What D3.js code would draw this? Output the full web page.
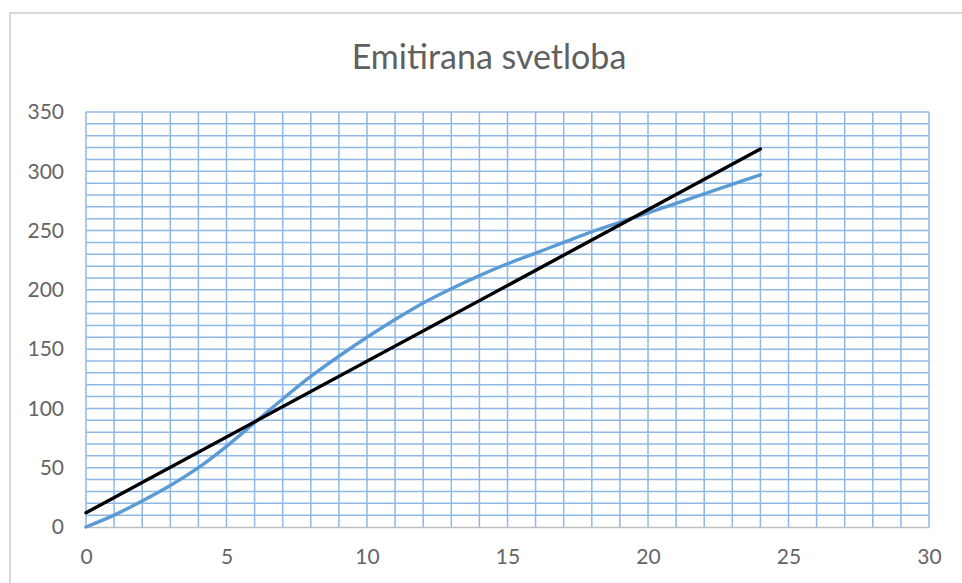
<!DOCTYPE html>
<html>
<head>
<meta charset="utf-8">
<script src="https://cdn.jsdelivr.net/npm/d3@7"></script>
<style>
  html, body { margin: 0; padding: 0; background: #fff; }
  svg { display: block; }
  text { font-family: Lato, "Open Sans", sans-serif; fill: #595959; }
</style>
</head>
<body>
<svg id="chart" width="962" height="583"></svg>
<script>
// Measured emission over time
const hours = [0, 1, 2, 3, 4, 5, 6, 7, 8, 9, 10, 11, 12, 13, 14, 15, 16, 17, 18, 19, 20, 21, 22, 23, 24];
const emitted = [0, 10, 22, 35, 50, 68, 88, 108, 127, 144, 160, 175, 189, 201, 212, 222, 231, 240, 249, 257, 265, 273, 281, 289, 297];

// Linear trend line end points
const trendX = [0, 24];
const trendY = [12, 318.7];

const xTicks = [0, 5, 10, 15, 20, 25, 30];
const yTicks = [0, 50, 100, 150, 200, 250, 300, 350];
const title = "Emitirana svetloba";

const svg = d3.select("#chart");
const W = 962, H = 583;
const plot = { left: 86, right: 929, top: 112, bottom: 527 };

// chart area frame
svg.append("rect")
  .attr("x", 10).attr("y", 13)
  .attr("width", W + 10).attr("height", H + 10)
  .attr("fill", "#fff")
  .attr("stroke", "#d9d9d9").attr("stroke-width", 2);

const x = d3.scaleLinear().domain([0, 30]).range([plot.left, plot.right]);
const y = d3.scaleLinear().domain([0, 350]).range([plot.bottom, plot.top]);

// grid
const grid = svg.append("g").attr("stroke", "#8fb8e4").attr("stroke-width", 1.5);
grid.selectAll("line.v").data(d3.range(0, 31, 1)).join("line")
  .attr("class", "v")
  .attr("x1", d => x(d)).attr("x2", d => x(d))
  .attr("y1", y(0)).attr("y2", y(350));
grid.selectAll("line.h").data(d3.range(10, 351, 10)).join("line")
  .attr("class", "h")
  .attr("x1", x(0)).attr("x2", x(30))
  .attr("y1", d => y(d)).attr("y2", d => y(d));

// axes
const xAxis = svg.append("g")
  .attr("transform", `translate(0,${plot.bottom})`)
  .call(d3.axisBottom(x).tickValues(xTicks).tickSize(0).tickPadding(22).tickFormat(d3.format("d")));
xAxis.select(".domain").attr("stroke", "#bfbfbf").attr("stroke-width", 1.5);
xAxis.selectAll("text").attr("font-size", 21).style("fill", "#656565");

const yAxis = svg.append("g")
  .attr("transform", `translate(${plot.left},0)`)
  .call(d3.axisLeft(y).tickValues(yTicks).tickSize(0).tickPadding(22).tickFormat(d3.format("d")));
yAxis.select(".domain").remove();
yAxis.selectAll("text").attr("font-size", 21).style("fill", "#656565");

// data curve
svg.append("path")
  .datum(hours.map((h, i) => [h, emitted[i]]))
  .attr("fill", "none")
  .attr("stroke", "#5b9bd5")
  .attr("stroke-width", 3.4)
  .attr("stroke-linecap", "round")
  .attr("d", d3.line().x(d => x(d[0])).y(d => y(d[1])).curve(d3.curveCatmullRom.alpha(0.5)));

// trend line
svg.append("path")
  .datum(trendX.map((t, i) => [t, trendY[i]]))
  .attr("fill", "none")
  .attr("stroke", "#000")
  .attr("stroke-width", 3.4)
  .attr("stroke-linecap", "round")
  .attr("d", d3.line().x(d => x(d[0])).y(d => y(d[1])));

// title
svg.append("text")
  .attr("x", 489).attr("y", 69)
  .attr("text-anchor", "middle")
  .attr("font-size", 34)
  .style("fill", "#606060")
  .text(title);
</script>
</body>
</html>
